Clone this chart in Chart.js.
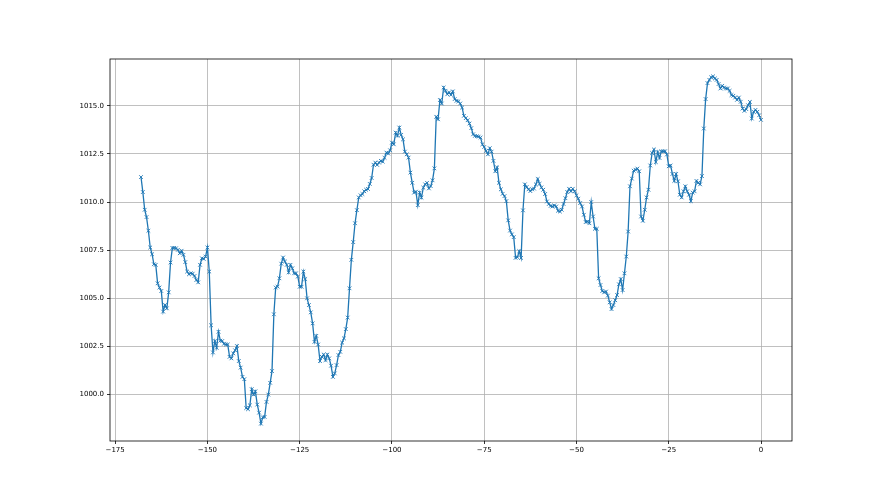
<!DOCTYPE html>
<html>
<head>
<meta charset="utf-8">
<script src="https://cdn.jsdelivr.net/npm/chart.js@4/dist/chart.umd.min.js"></script>
<style>
  html, body { margin: 0; padding: 0; background: #fff; }
  #wrap { width: 880px; height: 495px; }
</style>
</head>
<body>
<div id="wrap"><canvas id="chart" width="880" height="495"></canvas></div>
<script>
// half-hourly readings, hours relative to the last one
const START_HOUR = -168;
const STEP_HOURS = 0.5;

const pressure = [
    // -168 .. -148.5
    1011.30, 1010.52, 1009.60, 1009.22, 1008.51, 1007.64, 1007.29, 1006.77, 1006.74, 1005.78,
    1005.56, 1005.38, 1004.31, 1004.65, 1004.48, 1005.31, 1006.86, 1007.62, 1007.62, 1007.60,
    1007.52, 1007.34, 1007.47, 1007.26, 1006.88, 1006.39, 1006.25, 1006.30, 1006.28, 1006.16,
    1005.95, 1005.83, 1006.74, 1007.08, 1007.05, 1007.17, 1007.64, 1006.39, 1003.60, 1002.19,
    // -148 .. -125.5
    1002.78, 1002.43, 1003.26, 1002.80, 1002.78, 1002.64, 1002.60, 1002.60, 1001.96, 1001.88,
    1002.14, 1002.30, 1002.52, 1001.74, 1001.40, 1000.92, 1000.80, 999.30, 999.24, 999.44,
    1000.28, 1000.00, 1000.17, 999.48, 999.06, 998.49, 998.82, 998.84, 999.62, 1000.00,
    1000.61, 1001.22, 1004.17, 1005.56, 1005.61, 1006.04, 1006.80, 1007.12, 1006.91, 1006.74,
    1006.35, 1006.74, 1006.56, 1006.30, 1006.30, 1006.13,
    // -125 .. -104
    1005.60, 1005.60, 1006.39, 1006.00, 1005.00, 1004.65, 1004.27, 1003.70, 1002.74, 1003.05,
    1002.60, 1001.74, 1001.96, 1002.08, 1001.79, 1002.08, 1001.88, 1001.50, 1000.92, 1001.10,
    1001.53, 1002.05, 1002.22, 1002.70, 1002.92, 1003.40, 1004.00, 1005.52, 1007.00, 1007.92,
    1008.90, 1009.58, 1010.24, 1010.35, 1010.42, 1010.56, 1010.64, 1010.68, 1010.94, 1011.25,
    1011.94, 1012.05, 1011.93,
    // -103.5 .. -84
    1012.05, 1012.14, 1012.10, 1012.30, 1012.57, 1012.52, 1012.69, 1013.09, 1013.00, 1013.61,
    1013.44, 1013.87, 1013.49, 1013.26, 1012.62, 1012.48, 1012.31, 1011.53, 1011.00, 1010.49,
    1010.54, 1009.84, 1010.49, 1010.23, 1010.75, 1010.92, 1011.00, 1010.71, 1010.83, 1011.13,
    1011.75, 1014.43, 1014.30, 1015.30, 1015.12, 1015.95, 1015.78, 1015.60, 1015.70, 1015.57,
    // -83.5 .. -60
    1015.75, 1015.35, 1015.26, 1015.23, 1015.12, 1014.91, 1014.48, 1014.36, 1014.25, 1014.08,
    1013.84, 1013.52, 1013.44, 1013.42, 1013.40, 1013.35, 1013.00, 1012.86, 1012.66, 1012.48,
    1012.80, 1012.62, 1012.14, 1011.60, 1011.80, 1011.00, 1010.66, 1010.43, 1010.31, 1010.05,
    1009.05, 1008.52, 1008.32, 1008.18, 1007.10, 1007.14, 1007.45, 1007.10, 1009.57, 1010.92,
    1010.78, 1010.66, 1010.57, 1010.66, 1010.70, 1010.92, 1011.20, 1010.95,
    // -59.5 .. -40
    1010.76, 1010.64, 1010.42, 1010.03, 1009.90, 1009.80, 1009.77, 1009.83, 1009.77, 1009.55,
    1009.51, 1009.60, 1009.90, 1010.20, 1010.52, 1010.69, 1010.56, 1010.69, 1010.56, 1010.35,
    1010.17, 1009.95, 1009.77, 1009.34, 1008.96, 1008.99, 1008.90, 1010.00, 1009.25, 1008.61,
    1008.61, 1006.04, 1005.69, 1005.38, 1005.31, 1005.35, 1005.14, 1004.79, 1004.44, 1004.65,
    // -39.5 .. -19.5
    1004.90, 1005.17, 1005.73, 1006.00, 1005.43, 1006.30, 1007.17, 1008.47, 1010.82, 1011.22,
    1011.63, 1011.68, 1011.74, 1011.60, 1009.25, 1009.03, 1009.60, 1010.24, 1010.64, 1011.90,
    1012.55, 1012.73, 1012.08, 1012.60, 1012.29, 1012.64, 1012.64, 1012.64, 1012.47, 1011.86,
    1011.90, 1011.46, 1011.10, 1011.46, 1011.08, 1010.38, 1010.24, 1010.56, 1010.82, 1010.56,
    1010.38,
    // -19 .. 0
    1010.05, 1010.49, 1010.56, 1011.10, 1011.00, 1010.92, 1011.35, 1013.82, 1015.35, 1016.18,
    1016.35, 1016.48, 1016.53, 1016.42, 1016.35, 1016.13, 1015.90, 1016.04, 1015.95, 1015.90,
    1015.90, 1015.78, 1015.56, 1015.52, 1015.43, 1015.31, 1015.43, 1015.21, 1014.86, 1014.74,
    1014.83, 1015.03, 1015.20, 1014.34, 1014.69, 1014.79, 1014.69, 1014.51, 1014.27
];

const xTicks = [-175, -150, -125, -100, -75, -50, -25, 0];
const yTicks = [1000.0, 1002.5, 1005.0, 1007.5, 1010.0, 1012.5, 1015.0];

const points = pressure.map((p, i) => ({ x: START_HOUR + i * STEP_HOURS, y: p }));

// matplotlib style 5% margins
const xs = points.map(p => p.x);
const xMin = Math.min(...xs), xMax = Math.max(...xs);
const yMin = Math.min(...pressure), yMax = Math.max(...pressure);
const xPad = (xMax - xMin) * 0.05;
const yPad = (yMax - yMin) * 0.05;

const frame = {
    id: 'frame',
    afterDraw(chart) {
        const a = chart.chartArea;
        const c = chart.ctx;
        c.save();
        c.strokeStyle = '#000';
        c.lineWidth = 0.8;
        c.strokeRect(a.left, a.top, a.right - a.left, a.bottom - a.top);
        c.restore();
    }
};

const minus = v => String(v).replace('-', '\u2212');

const ctx = document.getElementById('chart').getContext('2d');
const pressure_chart = new Chart(ctx, {
    type: 'line',
    data: {
        datasets: [{
            label: 'pressure',
            data: points,
            borderColor: '#1f77b4',
            backgroundColor: '#1f77b4',
            borderWidth: 1.3,
            pointStyle: 'crossRot',
            pointRadius: 2.6,
            pointBorderWidth: 0.9,
            pointBorderColor: '#1f77b4',
            tension: 0,
            fill: false
        }]
    },
    options: {
        responsive: false,
        animation: false,
        devicePixelRatio: 1,
        layout: {
            padding: { top: 59, right: 88, left: 0, bottom: 0 }
        },
        scales: {
            x: {
                type: 'linear',
                min: xMin - xPad,
                max: xMax + xPad,
                afterBuildTicks: scale => {
                    scale.ticks = xTicks.map(v => ({ value: v }));
                },
                afterFit: scale => { scale.height = 54; },
                border: { display: false },
                grid: {
                    color: '#b0b0b0',
                    lineWidth: 0.8,
                    tickColor: '#000',
                    tickLength: 3
                },
                ticks: {
                    color: '#000',
                    padding: 2,
                    maxRotation: 0,
                    font: { family: 'DejaVu Sans', size: 7 },
                    callback: v => minus(v)
                }
            },
            y: {
                min: yMin - yPad,
                max: yMax + yPad,
                afterBuildTicks: scale => {
                    scale.ticks = yTicks.map(v => ({ value: v }));
                },
                afterFit: scale => { scale.width = 110; },
                border: { display: false },
                grid: {
                    color: '#b0b0b0',
                    lineWidth: 0.8,
                    tickColor: '#000',
                    tickLength: 3
                },
                ticks: {
                    color: '#000',
                    padding: 3,
                    font: { family: 'DejaVu Sans', size: 7 },
                    callback: v => v.toFixed(1)
                }
            }
        },
        plugins: {
            legend: { display: false },
            tooltip: { enabled: false }
        }
    },
    plugins: [frame]
});
</script>
</body>
</html>
